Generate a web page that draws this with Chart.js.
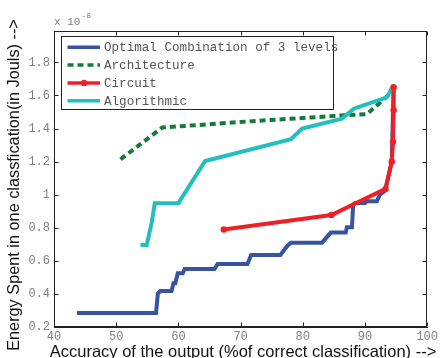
<!DOCTYPE html>
<html>
<head>
<meta charset="utf-8">
<script src="https://cdn.jsdelivr.net/npm/chart.js@4.4.1/dist/chart.umd.min.js"></script>
<style>
  html, body { margin: 0; padding: 0; background: #fff; }
  canvas { display: block; }
</style>
</head>
<body>
<canvas id="energyChart" width="441" height="358"></canvas>
<script>
/* ================== DATA ================== */
const xTicks = [40, 50, 60, 70, 80, 90, 100];
const yTicks = [0.2, 0.4, 0.6, 0.8, 1, 1.2, 1.4, 1.6, 1.8];

const optimalX = [43.7, 56.4, 56.7, 57.1, 58.9, 59.2, 59.5, 59.9, 60.7, 61.0, 65.8, 66.3, 71.1, 71.7,
  76.4, 77.5, 78.1, 83.1, 84.5, 86.9, 87.1, 87.9, 88.1, 88.4, 90.0, 90.2, 91.9, 92.4, 93.1, 93.3,
  94.3, 94.5, 94.6];
const optimalY = [0.285, 0.285, 0.403, 0.417, 0.417, 0.464, 0.464, 0.525, 0.525, 0.551, 0.551, 0.581, 0.581, 0.636,
  0.636, 0.69, 0.71, 0.71, 0.771, 0.771, 0.803, 0.803, 0.94, 0.95, 0.95, 0.96, 0.96, 1.0, 1.02, 1.035,
  1.2, 1.5, 1.65];

const archX = [50.7, 57.4, 70.0, 86.6, 90.3, 93.7, 94.5];
const archY = [1.214, 1.406, 1.44, 1.48, 1.487, 1.60, 1.65];

const circuitX = [67.3, 84.6, 93.3, 94.3, 94.5, 94.6, 94.6];
const circuitY = [0.79, 0.877, 1.035, 1.2, 1.32, 1.51, 1.65];

const algoX = [53.9, 54.9, 55.7, 56.2, 60.0, 64.3, 78.1, 79.9, 86.3, 88.2, 93.5, 94.5];
const algoY = [0.696, 0.696, 0.83, 0.949, 0.949, 1.204, 1.335, 1.40, 1.46, 1.52, 1.588, 1.655];

/* ================== HELPERS ================== */
function toPoints(xs, ys) {
  return xs.map((x, i) => ({ x: x, y: ys[i] }));
}

const MONO = "'Liberation Mono', 'DejaVu Sans Mono', monospace";
const SANS = "'Liberation Sans', Arial, sans-serif";

/* ================== MATLAB-STYLE FRAME, LEGEND, TITLES ================== */
const matlabFrame = {
  id: "matlabFrame",
  afterDraw(chart) {
    const ctx = chart.ctx;
    const a = chart.chartArea;
    const xs = chart.scales.x;
    const ys = chart.scales.y;
    const L = Math.round(a.left) + 0.5, R = Math.round(a.right) - 0.5;
    const T = Math.round(a.top) + 0.5, B = Math.round(a.bottom) - 0.5;

    ctx.save();
    ctx.strokeStyle = "#222";
    ctx.lineWidth = 1;
    ctx.setLineDash([]);
    ctx.strokeRect(L, T, R - L, B - T);

    // inward ticks on all four sides
    ctx.beginPath();
    xTicks.forEach(v => {
      const px = Math.round(xs.getPixelForValue(v)) + 0.5;
      ctx.moveTo(px, B); ctx.lineTo(px, B - 4);
      ctx.moveTo(px, T); ctx.lineTo(px, T + 4);
    });
    yTicks.forEach(v => {
      const py = Math.round(ys.getPixelForValue(v)) + 0.5;
      ctx.moveTo(L, py); ctx.lineTo(L + 4, py);
      ctx.moveTo(R, py); ctx.lineTo(R - 4, py);
    });
    ctx.stroke();

    // exponent label
    ctx.fillStyle = "#808080";
    ctx.textBaseline = "middle";
    ctx.textAlign = "left";
    ctx.font = "11px " + MONO;
    ctx.fillText("x 10", 54, 22);
    const w = ctx.measureText("x 10").width;
    ctx.font = "8px " + MONO;
    ctx.fillText("-8", 54 + w + 1, 16);

    // legend
    const lx = 61.5, ly = 36.5, lw = 272, lh = 73;
    ctx.fillStyle = "#fff";
    ctx.fillRect(lx, ly, lw, lh);
    ctx.strokeStyle = "#222";
    ctx.strokeRect(lx, ly, lw, lh);
    ctx.font = "12.6px " + MONO;
    chart.data.datasets.forEach((ds, i) => {
      const ry = 47.3 + i * 17.8;
      ctx.strokeStyle = ds.borderColor;
      ctx.lineWidth = 3.5;
      ctx.setLineDash(ds.borderDash || []);
      ctx.beginPath();
      ctx.moveTo(67.5, ry);
      ctx.lineTo(100, ry);
      ctx.stroke();
      ctx.setLineDash([]);
      if (ds.pointRadius > 0) {
        ctx.fillStyle = ds.borderColor;
        ctx.beginPath();
        ctx.arc(84, ry, ds.pointRadius + 0.7, 0, Math.PI * 2);
        ctx.fill();
      }
      ctx.fillStyle = "#555";
      ctx.fillText(ds.label, 104, ry + 0.5);
    });

    // axis titles
    ctx.fillStyle = "#111";
    ctx.font = "16.5px " + SANS;
    ctx.textAlign = "center";
    ctx.fillText("Accuracy of the output (%of correct classification) -->", 243, 352);
    ctx.font = "16.3px " + SANS;
    ctx.translate(15, 185);
    ctx.rotate(-Math.PI / 2);
    ctx.fillText("Energy Spent in one classfication(in Jouls) -->", 0, 0);
    ctx.restore();
  }
};

/* ================== CHART ================== */
new Chart(document.getElementById("energyChart"), {
  type: "line",
  data: {
    datasets: [
      {
        label: "Optimal Combination of 3 levels",
        data: toPoints(optimalX, optimalY),
        borderColor: "#3953a4",
        borderWidth: 4,
        pointRadius: 0,
        order: 4
      },
      {
        label: "Architecture",
        data: toPoints(archX, archY),
        borderColor: "#127a3a",
        borderWidth: 4,
        borderDash: [6, 4],
        pointRadius: 0,
        order: 3
      },
      {
        label: "Circuit",
        data: toPoints(circuitX, circuitY),
        borderColor: "#ee2026",
        backgroundColor: "#ee2026",
        borderWidth: 4,
        pointRadius: 2.5,
        pointBorderWidth: 1.5,
        order: 1
      },
      {
        label: "Algorithmic",
        data: toPoints(algoX, algoY),
        borderColor: "#22bfbf",
        borderWidth: 4,
        pointRadius: 0,
        order: 2
      }
    ]
  },
  options: {
    responsive: false,
    animation: false,
    layout: { padding: { top: 31, right: 10, left: 0, bottom: 0 } },
    plugins: {
      legend: { display: false },
      tooltip: { enabled: false }
    },
    scales: {
      x: {
        type: "linear",
        min: 40,
        max: 100,
        afterBuildTicks: s => { s.ticks = xTicks.map(v => ({ value: v })); },
        afterFit: s => { s.height = 31; },
        grid: { display: false, drawTicks: false },
        border: { display: true, color: "#222", width: 1 },
        ticks: { color: "#808080", font: { family: MONO, size: 12 }, padding: 3, maxRotation: 0,
          callback: v => String(v) }
      },
      y: {
        type: "linear",
        min: 0.2,
        max: 1.99,
        afterBuildTicks: s => { s.ticks = yTicks.map(v => ({ value: v })); },
        afterFit: s => { s.width = 54; },
        grid: { display: false, drawTicks: false },
        border: { display: true, color: "#222", width: 1 },
        ticks: { color: "#808080", font: { family: MONO, size: 12 }, padding: 4,
          callback: v => String(v) }
      }
    }
  },
  plugins: [matlabFrame]
});
</script>
</body>
</html>
